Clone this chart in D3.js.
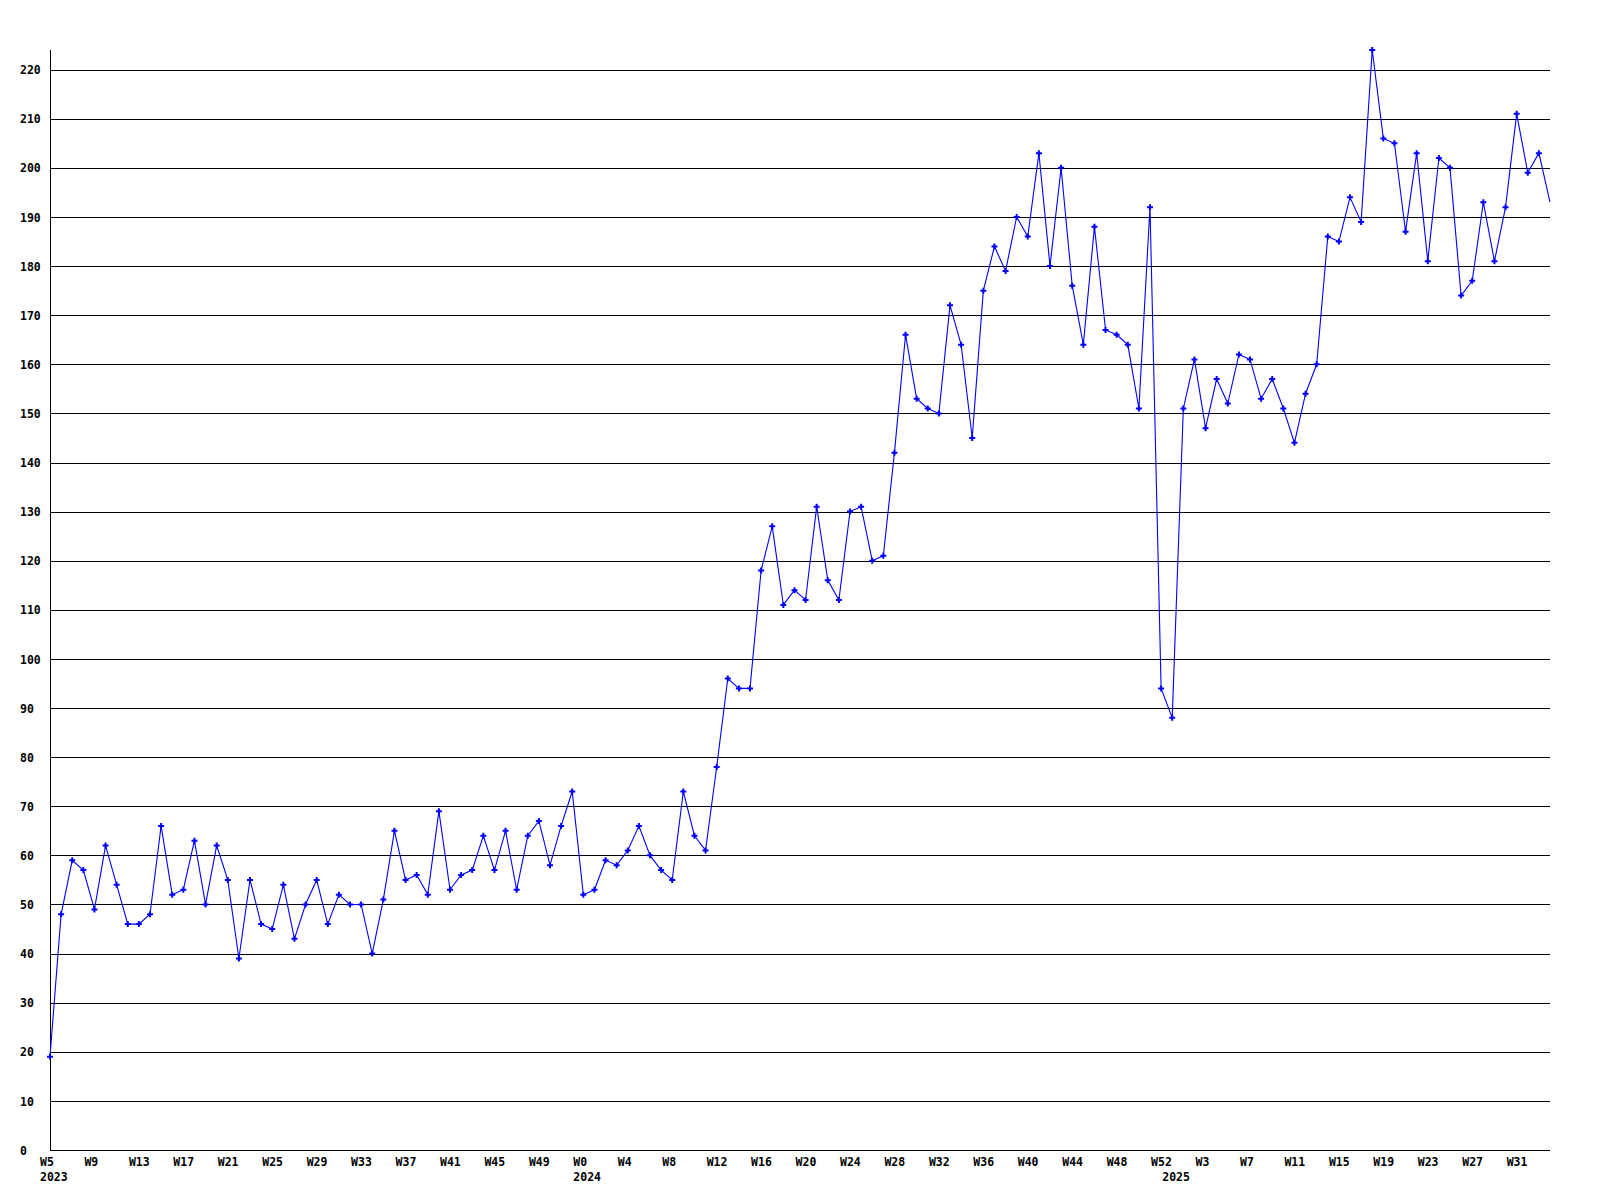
<!DOCTYPE html>
<html><head><meta charset="utf-8">
<script src="https://cdn.jsdelivr.net/npm/d3@7"></script>
<style>body{margin:0;background:#fff;} svg{display:block;}</style>
</head><body>
<script>
// ---- data ----
const years = [2023, 2024, 2025];
const firstWeek = [5, 0, 0];
const lastWeek = [52, 52, 34];
const values = [
  19,48,59,57,49,62,54,46,46,48,
  66,52,53,63,50,62,55,39,55,46,
  45,54,43,50,55,46,52,50,50,40,
  51,65,55,56,52,69,53,56,57,64,
  57,65,53,64,67,58,66,73,52,53,
  59,58,61,66,60,57,55,73,64,61,
  78,96,94,94,118,127,111,114,112,131,
  116,112,130,131,120,121,142,166,153,151,
  150,172,164,145,175,184,179,190,186,203,
  180,200,176,164,188,167,166,164,151,192,
  94,88,151,161,147,157,152,162,161,153,
  157,151,144,154,160,186,185,194,189,224,
  206,205,187,203,181,202,200,174,177,193,
  181,192,211,199,203,193
];
const yTickValues = [0,10,20,30,40,50,60,70,80,90,100,110,120,130,140,150,160,170,180,190,200,210,220];
const xLabelEvery = 4;

// categories
const categories = [];
years.forEach((yr, k) => {
  for (let w = firstWeek[k]; w <= lastWeek[k]; w++) categories.push({year: yr, week: w, key: yr + "-W" + w, label: "W" + w});
});
const data = categories.map((c, i) => ({...c, value: values[i]}));

// ---- chart ----
const W = 1600, H = 1200;
const mLeft = 50, mRight = 1550, mTop = 50, mBottom = 1150;
const svg = d3.select("body").append("svg").attr("width", W).attr("height", H);
const font = "'DejaVu Sans Mono', monospace";

const x = d3.scalePoint().domain(categories.map(c => c.key)).range([mLeft, mRight]);
const y = d3.scaleLinear().domain([0, d3.max(values)]).range([mBottom, mTop]);

// gridlines + y labels via axis
const gy = svg.append("g").attr("transform", `translate(${mLeft},0)`)
  .call(d3.axisLeft(y).tickValues(yTickValues).tickSize(-(mRight - mLeft)).tickPadding(0));
gy.select(".domain").remove();
gy.selectAll(".tick line").attr("stroke", "#000").attr("stroke-width", 1).attr("shape-rendering", "crispEdges");
gy.selectAll(".tick text")
  .attr("text-anchor", "start").attr("x", 20 - mLeft).attr("dy", "0.36em")
  .attr("fill", "#000").style("font-family", font).style("font-size", "11.5px").style("font-weight", "bold");

// axes lines
svg.append("line").attr("x1", mLeft).attr("x2", mLeft).attr("y1", mTop).attr("y2", mBottom)
  .attr("stroke", "#000").attr("shape-rendering", "crispEdges");
svg.append("line").attr("x1", mLeft).attr("x2", mRight).attr("y1", y(0)).attr("y2", y(0))
  .attr("stroke", "#000").attr("shape-rendering", "crispEdges");

// x labels
const xl = svg.append("g").style("font-family", font).style("font-size", "11.5px").style("font-weight", "bold").attr("fill", "#000");
xl.selectAll("text.wk").data(data.filter((d, i) => i % xLabelEvery === 0)).join("text")
  .attr("class", "wk").attr("x", d => x(d.key) - 10).attr("y", mBottom + 16).text(d => d.label);
xl.selectAll("text.yr").data(years.map(yr => data.find(d => d.year === yr))).join("text")
  .attr("class", "yr").attr("x", d => x(d.key) - 10).attr("y", mBottom + 31).text(d => d.year);

// line
svg.append("path").datum(data)
  .attr("fill", "none").attr("stroke", "#0000ff").attr("stroke-width", 1.1)
  .attr("d", d3.line().x(d => x(d.key)).y(d => y(d.value)));

// markers (last point falls on the clipped edge, no marker)
svg.append("g").selectAll("path").data(data.slice(0, -1)).join("path")
  .attr("transform", d => `translate(${x(d.key)},${y(d.value)})`)
  .attr("d", d3.symbol(d3.symbolCross, 20)).attr("fill", "#0000ff");
</script>
</body></html>
